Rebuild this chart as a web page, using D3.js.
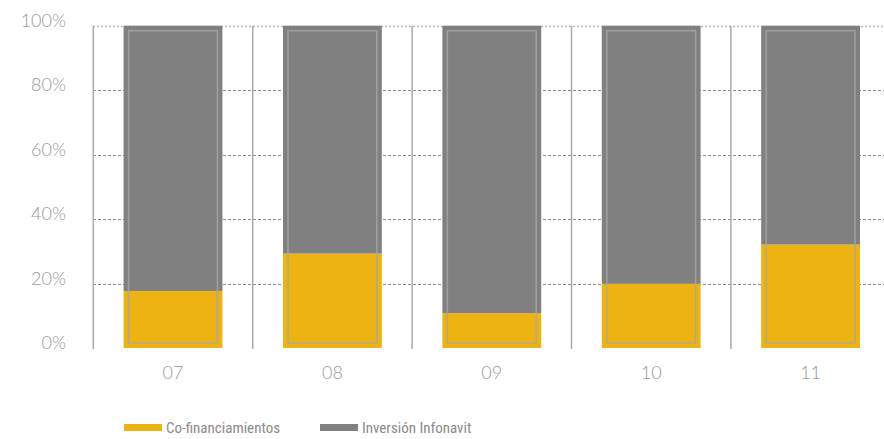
<!DOCTYPE html>
<html><head><meta charset="utf-8">
<script src="https://cdn.jsdelivr.net/npm/d3@7"></script>
<style>
body{margin:0;background:#fff;}
svg{display:block;}
</style></head>
<body>
<svg id="chart" width="884" height="439"></svg>
<script>
const categories = ["07","08","09","10","11"];
const coFinanciamientos = [17.7, 29.3, 10.8, 19.9, 32.1];
const inversionInfonavit = [82.3, 70.7, 89.2, 80.1, 67.9];
const yTicks = [0,20,40,60,80,100];
const seriesNames = ["Co-financiamientos","Inversión Infonavit"];
const seriesColors = ["#EDB313","#808081"];

const svg = d3.select("#chart");
const x = d3.scaleBand().domain(categories).range([93.3, 890.3]).padding(0);
const xb = d3.scaleBand().domain(categories).range([93.3, 890.3]).paddingInner(0.38).paddingOuter(0.19);
const y = d3.scaleLinear().domain([0,100]).range([348, 25.7]);
const font = "Lato, 'Open Sans', sans-serif";

// horizontal grid
svg.append("g").selectAll("line").data(yTicks.filter(t=>t>0)).join("line")
  .attr("x1", 93).attr("x2", 884)
  .attr("y1", d=>Math.round(y(d))+0.5).attr("y2", d=>Math.round(y(d))+0.5)
  .attr("stroke", d=>d===100?"#b8b8b8":"#8a8a8a")
  .attr("stroke-width", d=>d===100?1.5:1)
  .attr("stroke-dasharray", d=>d===100?"2,2":"3,2");

// vertical separators
svg.append("g").selectAll("line").data(categories).join("line")
  .attr("x1", d=>x(d)).attr("x2", d=>x(d))
  .attr("y1", y(100)).attr("y2", y(0)+1)
  .attr("stroke", "#aaaaaa").attr("stroke-width", 1.5);

// stacked bars
const rows = categories.map((c,i)=>({cat:c, a:coFinanciamientos[i], b:inversionInfonavit[i]}));
const stack = d3.stack().keys(["a","b"])(rows);
const gBars = svg.append("g");
stack.forEach((layer, li)=>{
  gBars.append("g").selectAll("rect").data(layer).join("rect")
    .attr("x", d=>xb(d.data.cat))
    .attr("width", xb.bandwidth())
    .attr("y", d=>y(d[1]))
    .attr("height", d=>y(d[0])-y(d[1]))
    .attr("fill", seriesColors[li]);
});
// inner outline
gBars.append("g").selectAll("rect").data(rows).join("rect")
  .attr("x", d=>xb(d.cat)+5)
  .attr("width", xb.bandwidth()-10)
  .attr("y", y(100)+5)
  .attr("height", y(0)-y(100)-10)
  .attr("fill","none")
  .attr("stroke","#a6a6a6").attr("stroke-opacity",0.85).attr("stroke-width",1.5);

// y labels
svg.append("g").selectAll("text").data(yTicks).join("text")
  .attr("x", 66).attr("y", d=>y(d)+1)
  .attr("text-anchor","end")
  .attr("font-family", font).attr("font-weight",300)
  .attr("font-size", 18).attr("fill","#999999")
  .text(d=>d+"%");

// x labels
svg.append("g").selectAll("text").data(categories).join("text")
  .attr("x", d=>xb(d)+xb.bandwidth()/2).attr("y", 379)
  .attr("text-anchor","middle")
  .attr("font-family", font).attr("font-weight",300)
  .attr("font-size", 18).attr("fill","#999999")
  .text(d=>d);

// legend
const legX = [124, 320];
const leg = svg.append("g").selectAll("g").data(seriesNames).join("g")
  .attr("transform",(d,i)=>`translate(${legX[i]},0)`);
leg.append("rect").attr("x",0).attr("y",424).attr("width",38).attr("height",7)
  .attr("fill",(d,i)=>seriesColors[i]);
leg.append("text").attr("x",42).attr("y",433)
  .attr("font-family","'Liberation Sans Narrow', 'Roboto Condensed', Roboto, sans-serif")
  .attr("font-stretch","condensed")
  .attr("font-size",15).attr("fill","#8a8a8a")
  .text(d=>d);
</script>
</body></html>
